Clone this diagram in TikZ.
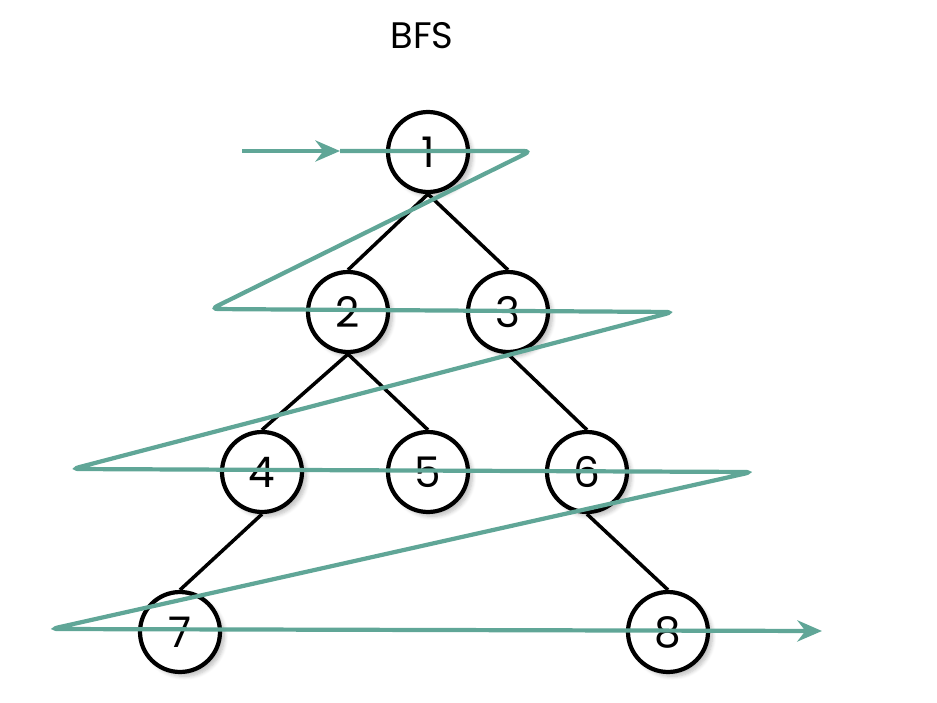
\documentclass[tikz,border=0pt]{standalone}
\usepackage{fontspec}
\setmainfont{Poppins}
\usetikzlibrary{arrows.meta,shadows.blur,backgrounds}
\definecolor{flowgreen}{RGB}{96,166,151}
\begin{document}
\begin{tikzpicture}[x=0.02cm,y=-0.02cm,
    vertex/.style={circle,draw=black,line width=2.4pt,fill=white,minimum size=1.6cm,
        inner sep=0pt,font=\fontsize{24}{28}\selectfont,
        blur shadow={shadow xshift=2.5pt,shadow yshift=-2.5pt,shadow blur steps=6,shadow opacity=25}},
    edge/.style={line width=2pt,black},
    flow/.style={line width=2.4pt,flowgreen,rounded corners=4pt,
        -{Stealth[length=14pt,width=12pt]}}]

    \useasboundingbox (0,0) rectangle (937,703);

    % Title
    \node (title) at (422,36) {\fontsize{21}{24}\selectfont BFS};

    % Tree
    \node[vertex] (n1) at (428,152) {1};
    \node[vertex] (n2) at (348,312) {2};
    \node[vertex] (n3) at (508,312) {3};
    \node[vertex] (n4) at (262,472) {4};
    \node[vertex] (n5) at (428,472) {5};
    \node[vertex] (n6) at (587,472) {6};
    \node[vertex] (n7) at (180,632) {7};
    \node[vertex] (n8) at (668,632) {8};

    % Edges (behind the nodes)
    \begin{scope}[on background layer]
        \draw[edge] (n1.south) -- (n2.north);
        \draw[edge] (n1.south) -- (n3.north);
        \draw[edge] (n2.south) -- (n4.north);
        \draw[edge] (n2.south) -- (n5.north);
        \draw[edge] (n3.south) -- (n6.north);
        \draw[edge] (n4.south) -- (n7.north);
        \draw[edge] (n6.south) -- (n8.north);
    \end{scope}

    % Traversal order
    \coordinate (in)  at (242,151);
    \coordinate (s0)  at (340,151);
    \coordinate (r1)  at (531,151);
    \coordinate (l2)  at (211,309);
    \coordinate (r2)  at (673,312);
    \coordinate (l3)  at (72,469);
    \coordinate (r3)  at (752,472);
    \coordinate (l4)  at (51,629);
    \coordinate (out) at (822,631);

    \draw[flow] (in) -- (s0);
    \draw[flow] (s0) -- (r1) -- (l2) -- (r2) -- (l3) -- (r3) -- (l4) -- (out);

\end{tikzpicture}
\end{document}
